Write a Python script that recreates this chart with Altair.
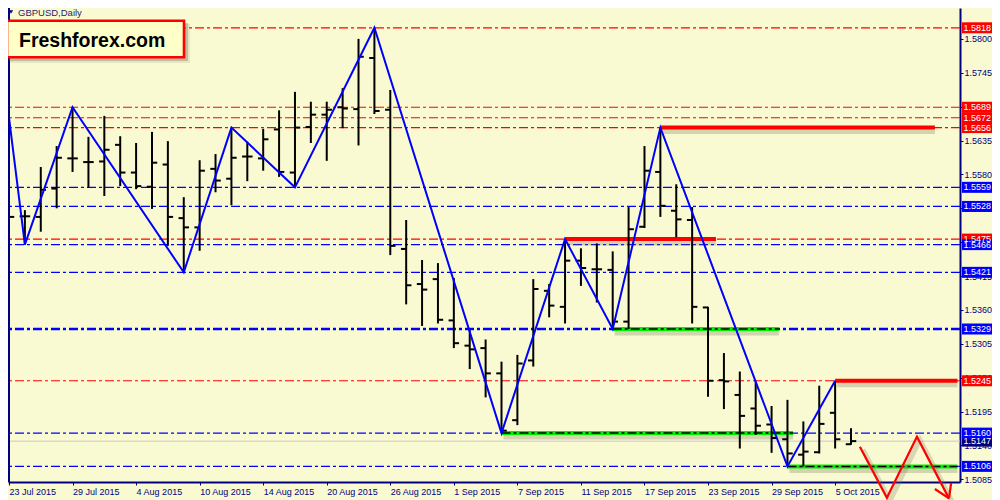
import altair as alt
import pandas as pd

# ---------------- data ----------------
bar_open  = [1.5515, 1.5512, 1.5511, 1.5557, 1.5606, 1.5600, 1.5601, 1.5628, 1.5583, 1.5560,
             1.5596, 1.5509, 1.5494, 1.5589, 1.5573, 1.5609, 1.5606, 1.5653, 1.5583, 1.5657,
             1.5677, 1.5689, 1.5686, 1.5769, 1.5685, 1.5459, 1.5402, 1.5410, 1.5343, 1.5302,
             1.5298, 1.5257, 1.5181, 1.5278, 1.5391, 1.5365, 1.5440, 1.5426, 1.5425, 1.5341,
             1.5495, 1.5584, 1.5521, 1.5506, 1.5364, 1.5246, 1.5222, 1.5200, 1.5174, 1.5150,
             1.5125, 1.5129, 1.5193, 1.5142]
bar_high  = [1.5672, 1.5522, 1.5592, 1.5626, 1.5689, 1.5641, 1.5675, 1.5642, 1.5631, 1.5649,
             1.5634, 1.5543, 1.5603, 1.5613, 1.5656, 1.5633, 1.5654, 1.5684, 1.5714, 1.5698,
             1.5698, 1.5720, 1.5800, 1.5818, 1.5717, 1.5506, 1.5441, 1.5436, 1.5412, 1.5327,
             1.5312, 1.5276, 1.5287, 1.5410, 1.5402, 1.5475, 1.5460, 1.5468, 1.5455, 1.5527,
             1.5626, 1.5656, 1.5564, 1.5527, 1.5365, 1.5290, 1.5260, 1.5244, 1.5204, 1.5214,
             1.5179, 1.5237, 1.5245, 1.5168]
bar_low   = [1.5498, 1.5466, 1.5487, 1.5525, 1.5584, 1.5558, 1.5545, 1.5561, 1.5556, 1.5524,
             1.5464, 1.5421, 1.5456, 1.5551, 1.5530, 1.5569, 1.5586, 1.5576, 1.5559, 1.5631,
             1.5602, 1.5655, 1.5627, 1.5678, 1.5449, 1.5369, 1.5334, 1.5338, 1.5298, 1.5264,
             1.5218, 1.5160, 1.5173, 1.5268, 1.5348, 1.5338, 1.5399, 1.5372, 1.5329, 1.5329,
             1.5493, 1.5511, 1.5478, 1.5338, 1.5219, 1.5199, 1.5135, 1.5157, 1.5128, 1.5106,
             1.5106, 1.5127, 1.5135, 1.5141]
bar_close = [1.5511, 1.5512, 1.5555, 1.5607, 1.5606, 1.5600, 1.5620, 1.5583, 1.5561, 1.5599,
             1.5511, 1.5494, 1.5586, 1.5570, 1.5607, 1.5609, 1.5637, 1.5584, 1.5656, 1.5677,
             1.5685, 1.5687, 1.5771, 1.5683, 1.5464, 1.5400, 1.5393, 1.5344, 1.5306, 1.5296,
             1.5257, 1.5164, 1.5273, 1.5394, 1.5367, 1.5440, 1.5428, 1.5426, 1.5341, 1.5491,
             1.5586, 1.5529, 1.5507, 1.5365, 1.5245, 1.5244, 1.5188, 1.5172, 1.5152, 1.5127,
             1.5130, 1.5175, 1.5150, 1.5147]

tick_index  = [0, 4, 8, 12, 16, 20, 24, 28, 32, 36, 40, 44, 48, 52]
tick_labels = ["23 Jul 2015", "29 Jul 2015", "4 Aug 2015", "10 Aug 2015", "14 Aug 2015",
               "20 Aug 2015", "26 Aug 2015", "1 Sep 2015", "7 Sep 2015", "11 Sep 2015",
               "17 Sep 2015", "23 Sep 2015", "29 Sep 2015", "5 Oct 2015"]
price_ticks = [1.5085, 1.5140, 1.5195, 1.5250, 1.5305, 1.5360, 1.5415, 1.5470,
               1.5525, 1.5580, 1.5635, 1.5690, 1.5745, 1.5800]

zz_index = [0, 1, 4, 11, 14, 18, 23, 31, 35, 38, 41, 49, 52]
zz_price = [1.5672, 1.5466, 1.5689, 1.5421, 1.5656, 1.5559, 1.5818,
            1.5160, 1.5475, 1.5329, 1.5656, 1.5106, 1.5245]

red_levels  = [1.5818, 1.5689, 1.5672, 1.5656, 1.5475, 1.5245]
blue_levels = [1.5559, 1.5528, 1.5466, 1.5421, 1.5329, 1.5160, 1.5106]
current_price = 1.5147

seg_start = [41, 35, 52, 38, 31, 49]
seg_end   = [58.28, 44.5, 59.7, 48.46, 49.35, 59.7]
seg_price = [1.5656, 1.5475, 1.5245, 1.5329, 1.5160, 1.5106]
seg_kind  = ["red", "red", "red", "green", "green", "green"]

fc_index = [53.56, 55.26, 57.15, 59.17]
fc_price = [1.51379, 1.50550, 1.51542, 1.50540]
barb_x0 = [59.17, 59.17]
barb_p0 = [1.50540, 1.50540]
barb_x1 = [58.28, 59.30]
barb_p1 = [1.50693, 1.50790]

# ---------------- styling ----------------
BG = "#FAFAD2"
NAVY = "#000080"
RED = "#FF0000"
BLUE = "#0000FF"
GREEN = "#00F000"
FONT = "Liberation Sans"
W, H = 952, 474
DASH = [9, 3, 3, 3]

xs = alt.Scale(domain=[-0.063, 59.86], nice=False, zero=False)
ys = alt.Scale(domain=[1.508065, 1.585013], nice=False, zero=False)

label_expr = "[" + ",".join("'%s'" % t for t in tick_labels) + "][round(datum.value / 4)]"

x_axis = alt.Axis(values=tick_index, labelExpr=label_expr, title=None, grid=False,
                  labelAlign="left", labelBaseline="top", tickSize=3, labelPadding=2,
                  domainColor=NAVY, domainWidth=2, tickColor=NAVY, tickWidth=1,
                  labelColor=NAVY, labelFont=FONT, labelFontSize=9,
                  labelFlush=False, labelOverlap=False)
y_axis = alt.Axis(orient="right", values=price_ticks, format=".4f", title=None, grid=False,
                  tickSize=3, labelPadding=1, domainColor=NAVY, domainWidth=2,
                  tickColor=NAVY, labelColor=NAVY, labelFont=FONT, labelFontSize=9,
                  labelFlush=False, labelOverlap=False, labelAlign="left")


def X(field):
    return alt.X(field, scale=xs, axis=x_axis)


def Y(field):
    return alt.Y(field, scale=ys, axis=y_axis)


n = len(bar_open)
bars = pd.DataFrame({"i": list(range(n)), "o": bar_open, "h": bar_high,
                     "l": bar_low, "c": bar_close})

# current price line
cur_df = pd.DataFrame({"p": [current_price]})
cur_line = alt.Chart(cur_df).mark_rule(color="#C8C8C8", strokeWidth=1).encode(y=Y("p:Q"))

# level lines
lv = pd.DataFrame({
    "p": red_levels + blue_levels,
    "col": [RED] * len(red_levels) + [BLUE] * len(blue_levels),
    "w": [1.2] * len(red_levels) + [2.5 if b == 1.5329 else 1.2 for b in blue_levels],
})
level_lines = alt.Chart(lv).mark_rule(strokeDash=DASH).encode(
    y=Y("p:Q"),
    color=alt.Color("col:N", scale=None),
    strokeWidth=alt.StrokeWidth("w:Q", scale=None))

# thick segments
seg = pd.DataFrame({"x0": seg_start, "x1": seg_end, "p": seg_price, "kind": seg_kind})
seg["col"] = seg["kind"].map({"red": RED, "green": GREEN})
seg_shadow = alt.Chart(seg).mark_rule(strokeWidth=7, color="#6e6e5a", opacity=0.28,
                                      xOffset=2, yOffset=3).encode(
    x=X("x0:Q"), x2="x1:Q", y=Y("p:Q"))
seg_main = alt.Chart(seg).mark_rule(strokeWidth=4).encode(
    x=X("x0:Q"), x2="x1:Q", y=Y("p:Q"), color=alt.Color("col:N", scale=None))
seg_dash = alt.Chart(seg).transform_filter("datum.kind == 'green'").mark_rule(
    strokeWidth=1.5, color="#000000", strokeDash=DASH).encode(
    x=X("x0:Q"), x2="x1:Q", y=Y("p:Q"))

# OHLC bars
base = alt.Chart(bars)
hl = base.mark_rule(color="#000000", strokeWidth=2).encode(
    x=X("i:Q"), y=Y("l:Q"), y2="h:Q")
op = base.transform_calculate(xo="datum.i - 0.33").mark_rule(
    color="#000000", strokeWidth=2).encode(x=X("i:Q"), x2="xo:Q", y=Y("o:Q"))
cl = base.transform_calculate(xc="datum.i + 0.33").mark_rule(
    color="#000000", strokeWidth=2).encode(x=X("i:Q"), x2="xc:Q", y=Y("c:Q"))

# zigzag
zz = pd.DataFrame({"x": zz_index, "p": zz_price, "k": list(range(len(zz_index)))})
zigzag = alt.Chart(zz).mark_line(color=BLUE, strokeWidth=2).encode(
    x=X("x:Q"), y=Y("p:Q"), order="k:Q")

# forecast arrow
fc = pd.DataFrame({"x": fc_index, "p": fc_price, "k": list(range(len(fc_index)))})
fc_shadow = alt.Chart(fc).mark_line(color="#6e6e5a", strokeWidth=5, opacity=0.25,
                                    xOffset=3, yOffset=3, clip=False).encode(
    x=X("x:Q"), y=Y("p:Q"), order="k:Q")
fc_line = alt.Chart(fc).mark_line(color=RED, strokeWidth=2.2, clip=False).encode(
    x=X("x:Q"), y=Y("p:Q"), order="k:Q")
barbs_df = pd.DataFrame({"x0": barb_x0, "p0": barb_p0, "x1": barb_x1, "p1": barb_p1})
barbs = alt.Chart(barbs_df).mark_rule(color=RED, strokeWidth=2.2, clip=False).encode(
    x=X("x0:Q"), x2="x1:Q", y=Y("p0:Q"), y2="p1:Q")

# left frame line
one = pd.DataFrame({"t": ["Freshforex.com"]})
left_frame = alt.Chart(one).mark_rule(color=NAVY, strokeWidth=2).encode(x=alt.value(1))

# right-axis price boxes
box_df = pd.DataFrame({
    "p": [current_price] + red_levels + blue_levels,
    "col": [NAVY] + [RED] * len(red_levels) + [BLUE] * len(blue_levels),
})
box_df["label"] = box_df["p"].map(lambda v: "%.4f" % v)
boxes = alt.Chart(box_df).mark_rule(strokeWidth=11, strokeCap="butt", clip=False).encode(
    x=alt.value(W + 2), x2=alt.value(W + 32), y=Y("p:Q"),
    color=alt.Color("col:N", scale=None))
box_text = alt.Chart(box_df).mark_text(align="left", baseline="middle", color="white",
                                       font=FONT, fontSize=9, clip=False).encode(
    x=alt.value(W + 3.5), y=Y("p:Q"), text="label:N")

# logo box
logo_shadow2 = alt.Chart(one).mark_rect(fill="#8a8a70", opacity=0.18).encode(
    x=alt.value(2), x2=alt.value(182), y=alt.value(16), y2=alt.value(55))
logo_shadow = alt.Chart(one).mark_rect(fill="#707060", opacity=0.35).encode(
    x=alt.value(1), x2=alt.value(180), y=alt.value(15), y2=alt.value(53))
logo_box = alt.Chart(one).mark_rect(fill="#FFFFC8", stroke=RED, strokeWidth=2.6).encode(
    x=alt.value(-1), x2=alt.value(176), y=alt.value(12.7), y2=alt.value(49.3))
logo_text = alt.Chart(one).mark_text(align="left", baseline="alphabetic", font=FONT,
                                     fontWeight="bold", fontSize=19.5, color="#000000").encode(
    x=alt.value(11), y=alt.value(39), text="t:N")

# symbol title
title_df = pd.DataFrame({"t": ["GBPUSD,Daily"]})
tri = alt.Chart(title_df).mark_point(shape="triangle-down", filled=True, size=18,
                                     color=NAVY, opacity=1).encode(
    x=alt.value(3), y=alt.value(4))
title_text = alt.Chart(title_df).mark_text(align="left", baseline="alphabetic", font=FONT,
                                           fontSize=9.5, color="#1E1E6E").encode(
    x=alt.value(10), y=alt.value(7.5), text="t:N")

chart = alt.layer(
    cur_line, level_lines, seg_shadow, seg_main, seg_dash, hl, op, cl, zigzag,
    fc_shadow, fc_line, barbs, left_frame, boxes, box_text,
    logo_shadow2, logo_shadow, logo_box, logo_text, tri, title_text,
).properties(
    width=W, height=H, background=BG,
    padding={"left": 0, "top": 0, "right": 32, "bottom": 18},
    autosize=alt.AutoSizeParams(type="none"),
).configure_view(fill=BG, stroke=None)

chart.save("out.html", embed_options={"renderer": "svg", "actions": False})
